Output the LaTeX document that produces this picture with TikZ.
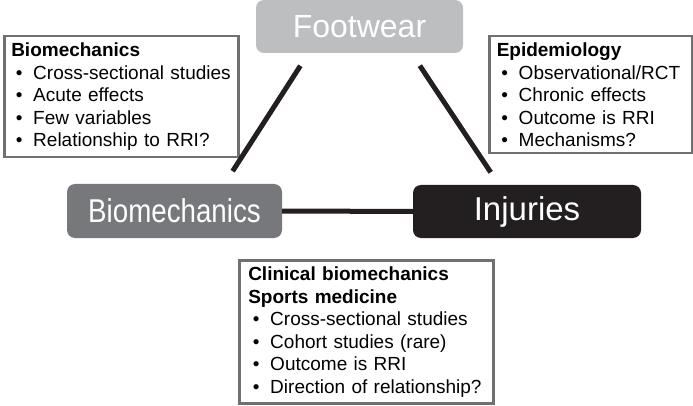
\documentclass[tikz,border=0pt]{standalone}
\usepackage{fontspec}
\setmainfont{Liberation Sans}
\newfontfamily\narrowsans[FakeStretch=0.84]{Liberation Sans}
\usepackage{tikz}
\definecolor{fwgray}{RGB}{189,190,192}
\definecolor{biogray}{RGB}{119,120,123}
\definecolor{injblack}{RGB}{35,31,32}
\definecolor{boxgray}{RGB}{112,112,112}
\newcommand{\itm}{\makebox[16pt][c]{\textbullet}\hspace{6pt}}

\begin{document}
\begin{tikzpicture}[x=1pt, y=-1pt,
  main/.style = {rounded corners=8pt, text=white, inner sep=0pt, minimum height=53pt},
  note/.style = {draw=boxgray, line width=2.5pt, anchor=north west, align=left, inner ysep=6.5pt, font=\fontsize{19}{22.5}\selectfont},
  link/.style = {draw=injblack, line width=5pt}]
\useasboundingbox (0,0) rectangle (693,406);
\node[main, fill=fwgray, minimum width=207pt, font=\fontsize{32}{36}\selectfont] (fw) at (359.5,26.5) {Footwear};
\node[main, fill=biogray, minimum width=215pt, minimum height=54pt, font=\fontsize{33}{36}\narrowsans] (bio) at (174.5,211) {Biomechanics};
\node[main, fill=injblack, minimum width=228pt, font=\fontsize{33}{36}\selectfont] (inj) at (527,211.5) {Injuries};
\node[note, text width=220pt, inner xsep=7pt] (biolist) at (3,35) {\textbf{Biomechanics}\\ \itm Cross-sectional studies\\ \itm Acute effects\\ \itm Few variables\\ \itm Relationship to RRI?};
\node[note, text width=188pt, inner xsep=7.5pt] (epilist) at (488,35) {\textbf{Epidemiology}\\ \itm \mbox{Observational/RCT}\\ \itm Chronic effects\\ \itm Outcome is RRI\\ \itm Mechanisms?};
\node[note, text width=236pt, inner xsep=9pt] (cliniclist) at (238,259) {\textbf{Clinical biomechanics}\\ \textbf{Sports medicine}\\ \itm Cross-sectional studies\\ \itm Cohort studies (rare)\\ \itm Outcome is RRI\\ \itm Direction of relationship?};
\draw[link, shorten >=15pt, shorten <=15pt] ([xshift=-51pt]fw.south) -- ([xshift=50pt]bio.north);
\draw[link, shorten >=15pt, shorten <=15pt] ([xshift=52pt]fw.south) -- ([xshift=-28pt]inj.north);
\draw[link] (bio) -- (inj);
\end{tikzpicture}
\end{document}
